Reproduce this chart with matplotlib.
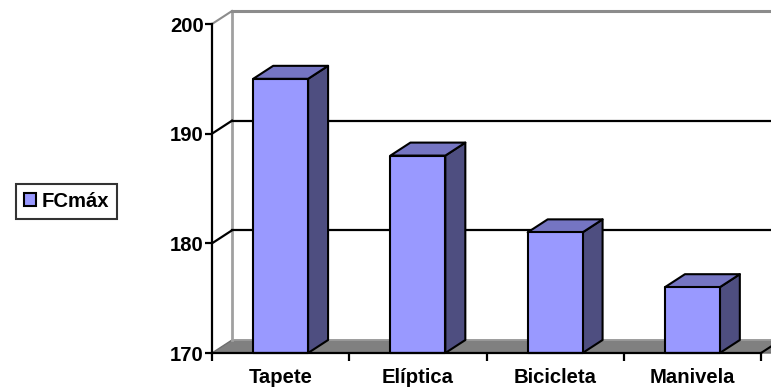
import matplotlib
matplotlib.use("Agg")
import matplotlib.pyplot as plt
from matplotlib.patches import Polygon, Rectangle, Patch

# Data
categories = ["Tapete", "Elíptica", "Bicicleta", "Manivela"]
fc_max = [195, 188, 181, 176]
series_name = "FCmáx"
y_ticks = [170, 180, 190, 200]

plt.rcParams["font.family"] = ["Liberation Sans", "DejaVu Sans"]
plt.rcParams["font.weight"] = "bold"

FS = 14.6
W, H, DPI = 771, 391, 100
fig = plt.figure(figsize=(W / DPI, H / DPI), dpi=DPI)
ax_left, ax_right, ax_top, ax_bot = 212, 761, 24, 353
ax = fig.add_axes([ax_left / W, 1 - ax_bot / H, (ax_right - ax_left) / W, (ax_bot - ax_top) / H])

ymin, ymax = 170, 200
n = len(categories)
ax.set_xlim(0, n)
ax.set_ylim(ymin, ymax)

# depth offset of the 3D box, in data units
depth_px = (20, 13)
dx = depth_px[0] * n / (ax_right - ax_left)
dy = depth_px[1] * (ymax - ymin) / (ax_bot - ax_top)

face = "#9999FF"
top_c = "#7575C2"
side_c = "#4E4E80"
wall_edge = "#8C8C8C"
floor_c = "#808080"

# floor
ax.add_patch(Polygon([(0, ymin), (n + 0.3, ymin), (n + 0.3 + dx, ymin + dy), (dx, ymin + dy)],
                     closed=True, facecolor=floor_c, edgecolor="#6E6E6E", lw=1.0,
                     clip_on=False, zorder=1))
ax.plot([dx, n + dx + 0.3], [ymin + dy, ymin + dy], color="#A0A0A0", lw=1.2, clip_on=False, zorder=1.5)
ax.plot([n, n + dx], [ymin, ymin + dy], color="black", lw=1.5, clip_on=False, zorder=1.5)

# back wall edges and gridlines
ax.plot([dx, dx], [ymin + dy, ymax + dy], color="#A0A0A0", lw=2, clip_on=False, zorder=1)
ax.plot([dx, n + dx + 0.3], [ymax + dy, ymax + dy], color=wall_edge, lw=2.2, clip_on=False, zorder=1)
ax.plot([0, dx], [ymax, ymax + dy], color=wall_edge, lw=1.5, clip_on=False, zorder=1)
for v in y_ticks[1:-1]:
    ax.plot([dx, n + dx + 0.3], [v + dy, v + dy], color="black", lw=1.6, clip_on=False, zorder=1)
    ax.plot([0, dx], [v, v + dy], color="black", lw=1.6, clip_on=False, zorder=1)

# bars
bw = 0.4
for i, v in enumerate(fc_max):
    x0 = i + 0.5 - bw / 2
    x1 = x0 + bw
    ax.add_patch(Polygon([(x1, ymin), (x1 + dx, ymin + dy), (x1 + dx, v + dy), (x1, v)],
                         closed=True, facecolor=side_c, edgecolor="black", lw=1.5,
                         joinstyle="round", clip_on=False, zorder=3))
    ax.add_patch(Polygon([(x0, v), (x1, v), (x1 + dx, v + dy), (x0 + dx, v + dy)],
                         closed=True, facecolor=top_c, edgecolor="black", lw=1.5,
                         joinstyle="round", clip_on=False, zorder=3))
    ax.add_patch(Rectangle((x0, ymin), bw, v - ymin, facecolor=face, edgecolor="black",
                           lw=1.5, joinstyle="round", clip_on=False, zorder=4))

# axes styling
for s in ["top", "right"]:
    ax.spines[s].set_visible(False)
for s in ["left", "bottom"]:
    ax.spines[s].set_color("black")
    ax.spines[s].set_linewidth(1.6)
    ax.spines[s].set_zorder(5)
ax.patch.set_visible(False)

ax.set_yticks(y_ticks)
ax.set_yticklabels([str(t) for t in y_ticks], fontsize=FS, fontweight="bold")
ax.tick_params(axis="y", direction="out", length=5, width=1.6, pad=0.8, color="black")

ax.set_xticks([i + 0.5 for i in range(n)])
ax.set_xticklabels(categories, fontsize=FS, fontweight="bold")
ax.tick_params(axis="x", which="major", length=0, pad=11)
ax.set_xticks(list(range(n + 1)), minor=True)
ax.tick_params(axis="x", which="minor", direction="out", length=6, width=1.6, color="black")

# legend
handle = Patch(facecolor=face, edgecolor="black", linewidth=1.5, label=series_name)
leg = fig.legend(handles=[handle], loc="center", bbox_to_anchor=(66.5 / W, 1 - 201.5 / H),
                 frameon=True, fancybox=False, shadow=False, fontsize=FS,
                 handlelength=0.6, handleheight=0.6, handletextpad=0.3,
                 borderpad=0.4, borderaxespad=0)
leg.get_frame().set_edgecolor("black")
leg.get_frame().set_linewidth(1.5)
for t in leg.get_texts():
    t.set_fontweight("bold")

fig.savefig("out.png", dpi=DPI)
